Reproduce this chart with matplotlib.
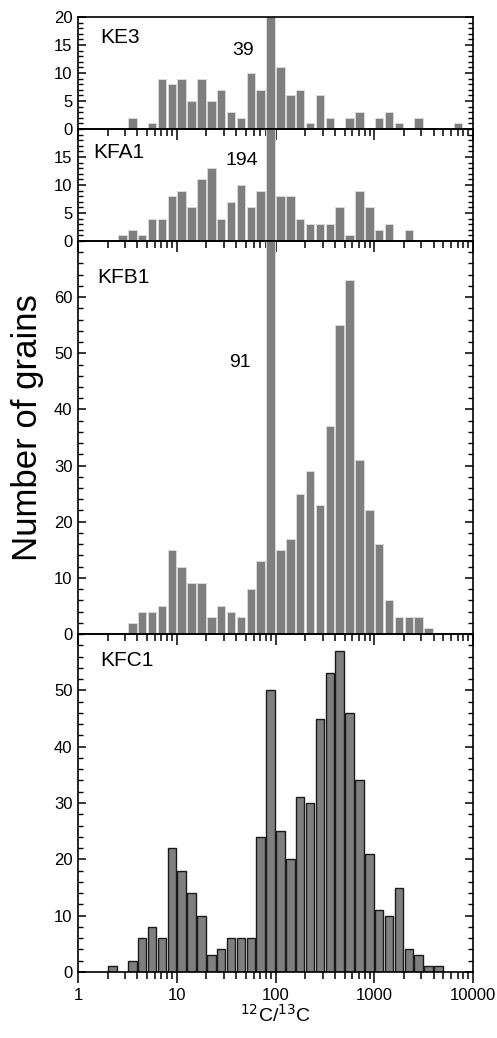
import numpy as np
import matplotlib
matplotlib.use("Agg")
import matplotlib.pyplot as plt
from matplotlib.ticker import LogLocator, NullFormatter, MultipleLocator, FixedLocator

plt.rcParams['font.family'] = ['Liberation Sans', 'DejaVu Sans']

# Bin index k covers log10(ratio) from k/10 to (k+1)/10
# Counts per bin (index -> count)
panel_names = ["KE3", "KFA1", "KFB1", "KFC1"]

ke3_bins = [5, 7, 8, 9, 10, 11, 12, 13, 14, 15, 16, 17, 18, 19, 20, 21, 22, 23, 24, 25, 27, 28, 30, 31, 32, 34, 38]
ke3_counts = [2, 1, 9, 8, 9, 5, 9, 5, 7, 3, 2, 10, 7, 39, 11, 6, 7, 1, 6, 2, 2, 3, 2, 3, 1, 2, 1]

kfa1_bins = [4, 5, 6, 7, 8, 9, 10, 11, 12, 13, 14, 15, 16, 17, 18, 19, 20, 21, 22, 23, 24, 25, 26, 27, 28, 29, 30, 31, 33]
kfa1_counts = [1, 2, 1, 4, 4, 8, 9, 6, 11, 13, 4, 7, 10, 6, 9, 194, 8, 8, 4, 3, 3, 3, 6, 1, 9, 6, 2, 3, 2]

kfb1_bins = [5, 6, 7, 8, 9, 10, 11, 12, 13, 14, 15, 16, 17, 18, 19, 20, 21, 22, 23, 24, 25, 26, 27, 28, 29, 30, 31, 32, 33, 34, 35]
kfb1_counts = [2, 4, 4, 5, 15, 12, 9, 9, 3, 5, 4, 3, 8, 13, 91, 15, 17, 25, 29, 23, 37, 55, 63, 31, 22, 16, 6, 3, 3, 3, 1]

kfc1_bins = [3, 5, 6, 7, 8, 9, 10, 11, 12, 13, 14, 15, 16, 17, 18, 19, 20, 21, 22, 23, 24, 25, 26, 27, 28, 29, 30, 31, 32, 33, 34, 35, 36]
kfc1_counts = [1, 2, 6, 8, 6, 22, 18, 14, 10, 3, 4, 6, 6, 6, 24, 50, 25, 20, 31, 30, 45, 53, 57, 46, 34, 21, 11, 10, 15, 4, 3, 1, 1]

peak_labels = ["39", "194", "91", None]
ylims = [20, 20, 70, 60]
yticks_major = [[0, 5, 10, 15, 20], [0, 5, 10, 15], [0, 10, 20, 30, 40, 50, 60], [0, 10, 20, 30, 40, 50]]
yminor = [1, 1, 2, 2]

bins_all = [ke3_bins, kfa1_bins, kfb1_bins, kfc1_bins]
counts_all = [ke3_counts, kfa1_counts, kfb1_counts, kfc1_counts]

W, H = 497, 1038
fig = plt.figure(figsize=(W / 100, H / 100), dpi=100)
fig.patch.set_facecolor("white")

left, right = 78 / W, 473 / W
# (top_px, bottom_px) of each panel
panel_px = [(17, 129), (129, 241), (241, 634), (634, 972)]

name_pos = [(0.056, 0.82), (0.038, 0.786), (0.048, 0.908), (0.057, 0.923)]
peak_pos = [(0.418, 0.70), (0.415, 0.723), (0.41, 0.69), None]

gap = 0.0075
axes = []
for i in range(4):
    t, b = panel_px[i]
    ax = fig.add_axes([left, 1 - b / H, right - left, (b - t) / H])
    ax.patch.set_visible(False)
    ax.set_xscale("log")
    ax.set_xlim(1, 10000)
    ax.set_ylim(0, ylims[i])
    k = np.array(bins_all[i])
    lo = 10 ** (k / 10 + gap)
    hi = 10 ** ((k + 1) / 10 - gap)
    if i < 3:
        ax.bar(lo, counts_all[i], width=hi - lo, align="edge", color="#7f7f7f",
               edgecolor="#d9d9d9", linewidth=0.7, zorder=2)
    else:
        ax.bar(lo, counts_all[i], width=hi - lo, align="edge", color="#7f7f7f",
               edgecolor="#1a1a1a", linewidth=1.0, zorder=2)
    for s in ax.spines.values():
        s.set_linewidth(1.2)
        s.set_zorder(3)
    ax.xaxis.set_major_locator(LogLocator(base=10, numticks=10))
    ax.xaxis.set_minor_locator(LogLocator(base=10, subs=np.arange(2, 10), numticks=20))
    ax.xaxis.set_minor_formatter(NullFormatter())
    ax.tick_params(axis="x", which="major", direction="out", length=8, width=1.1,
                   top=False, bottom=True, labelsize=12)
    ax.tick_params(axis="x", which="minor", direction="out", length=5, width=1.1,
                   top=False, bottom=True)
    if i < 3:
        ax.tick_params(axis="x", which="both", labelbottom=False)
    else:
        ax.set_xticks([1, 10, 100, 1000, 10000])
        ax.set_xticklabels(["1", "10", "100", "1000", "10000"])
    ax.yaxis.set_major_locator(FixedLocator(yticks_major[i]))
    ax.yaxis.set_minor_locator(MultipleLocator(yminor[i]))
    ax.tick_params(axis="y", which="major", direction="in", length=6, width=1.1,
                   left=True, right=True, labelsize=12, pad=4)
    ax.tick_params(axis="y", which="minor", direction="in", length=3.5, width=1.0,
                   left=True, right=True)
    ax.text(name_pos[i][0], name_pos[i][1], panel_names[i], transform=ax.transAxes,
            fontsize=15, ha="left", va="center")
    if peak_labels[i]:
        ax.text(peak_pos[i][0], peak_pos[i][1], peak_labels[i], transform=ax.transAxes,
                fontsize=14, ha="center", va="center")
    axes.append(ax)

axes[3].set_xlabel(r"$^{12}$C/$^{13}$C", fontsize=14, labelpad=1)
fig.text(28 / W, 1 - 428 / H, "Number of grains", rotation=90, fontsize=25,
         ha="center", va="center")

fig.savefig("out.png", dpi=100)
